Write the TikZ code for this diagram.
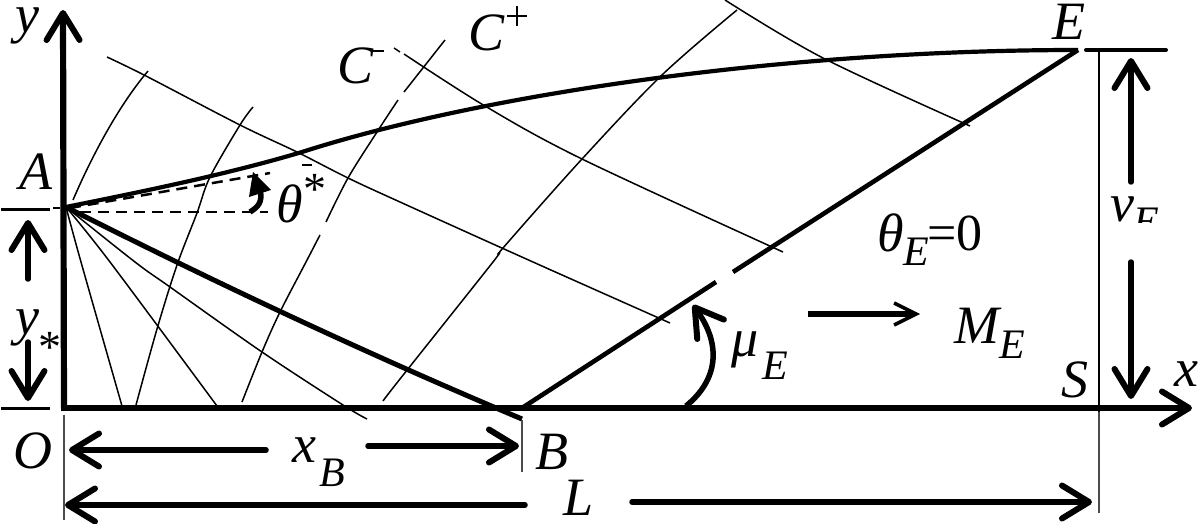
\documentclass[tikz,border=0pt]{standalone}
\usepackage{fontspec}
\setmainfont{Liberation Serif}
\usetikzlibrary{arrows.meta}
\tikzset{
  thinline/.style={line width=1.5pt,smooth,tension=0.55},
  dim/.style={line width=5.5pt,line cap=round},
  vee/.style={-{Straight Barb[length=27pt,width=33pt,line width=6pt,round]}},
  lbl/.style={font=\fontsize{54}{54}\selectfont\itshape,inner sep=0pt},
  subl/.style={font=\fontsize{42}{42}\selectfont\itshape,inner sep=0pt},
  star/.style={font=\fontsize{46}{46}\selectfont,inner sep=0pt},
  dsh/.style={line width=2.5pt,dash pattern=on 11pt off 7pt}
}
\begin{document}
\begin{tikzpicture}[x=1pt,y=-1pt]
\useasboundingbox (0,0) rectangle (1200,524);
\coordinate (A) at (66,207);
\coordinate (O) at (64,408);
\coordinate (O2) at (61,408);
\coordinate (B) at (522,408);
\coordinate (E) at (1078,50);
\coordinate (P) at (302,152);
\coordinate (W) at (522,419);
\coordinate (Ytop) at (63,10);
\coordinate (Xend) at (1192,408);
% axes
\draw[line width=6.2pt,vee] (O) -- (Ytop);
\draw[line width=5.5pt,vee] (O2) -- (Xend);
% thin fan and net
\draw[thinline] plot coordinates {(A) (81,262) (122,406)};
\draw[thinline] plot coordinates {(A) (110,262) (217,406)};
\draw[thinline] plot coordinates {(A) (135,262) (170,287) (262,352) (343,405) (367,419)};
\draw[line width=1.5pt] (73,200) .. controls (88,165) and (115,110) .. (148,71);
\draw[thinline] plot coordinates {(136,405) (157,329) (177,265) (197,213) (210,177) (240,125) (253,107)};
\draw[thinline] plot coordinates {(242,402) (262,352) (280,312) (306,262) (320,235)};
\draw[thinline] plot coordinates {(326,222) (348,178) (377,132) (398,100)};
\draw[line width=1.5pt] (404,92) -- (445,40);
\draw[thinline] plot coordinates {(383,401) (400,379) (493,262) (503,248) (582,159) (662,75) (737,10)};
\draw[thinline] plot coordinates {(107,57) (146,76) (240,125) (297,152) (348,178) (400,202) (533,262) (670,323)};
\draw[line width=1.5pt] (394,48) -- (400,52);
\draw[thinline] plot coordinates {(404,54) (485,106) (582,159) (783,252)};
\draw[thinline] plot coordinates {(725,0) (823,58) (970,126)};
% walls
\draw[line width=4.2pt] (A) .. controls (140,192) and (225,175) .. (P) .. controls (480,95) and (780,50) .. (E);
\draw[line width=5pt] (A) .. controls (220,285) and (370,355) .. (W);
\draw[line width=4.6pt] (B) -- (716,282);
\draw[line width=4.6pt] (733,272) -- (E);
% dashed
\coordinate (dA) at (70,208);
\coordinate (dB) at (270,173);
\coordinate (dC) at (80,212);
\coordinate (dD) at (268,212);
\draw[dsh] (dA) -- (dB);
\draw[dsh] (dC) -- (dD);
\draw[line width=2.5pt] (53,208) -- (60,208);
% angle arrow
\draw[line width=5.5pt] (250,212) .. controls (258,207) and (263,202) .. (260,190);
\fill (253,172) -- (271,190) -- (249,197) -- cycle;
\draw[line width=1.5pt] (302,165) -- (312,165);
% horizontal ticks
\draw[line width=3pt] (1,209) -- (50,209);
\draw[line width=3pt] (1,408) -- (50,408);
\draw[line width=4pt,line cap=round] (1086,50) -- (1166,50);
% vertical thin
\draw[line width=2pt,black!70] (64,415) -- (64,520);
\draw[line width=2pt,black!70] (522,420) -- (522,472);
\draw[line width=2pt] (1099,50) -- (1099,412);
\draw[line width=2pt,black!70] (1099,412) -- (1099,513);
% dims
\coordinate (y1) at (28,220); \coordinate (y1b) at (28,279);
\draw[dim,vee] (y1b) -- (y1);
\coordinate (y2) at (28,401); \coordinate (y2b) at (28,342);
\draw[dim,vee] (y2b) -- (y2);
\coordinate (xa) at (69,450); \coordinate (xb) at (266,450);
\draw[dim,vee] (xb) -- (xa);
\coordinate (xc) at (519,446); \coordinate (xd) at (368,446);
\draw[dim,vee] (xd) -- (xc);
\coordinate (La) at (65,505); \coordinate (Lb) at (525,505);
\draw[dim,vee] (Lb) -- (La);
\coordinate (Lc) at (1092,502); \coordinate (Ld) at (632,502);
\draw[dim,vee] (Ld) -- (Lc);
\coordinate (ya) at (1131,58); \coordinate (yb) at (1131,182);
\draw[dim,vee] (yb) -- (ya);
\coordinate (yc) at (1131,399); \coordinate (yd) at (1131,262);
\draw[dim,vee] (yd) -- (yc);
\coordinate (Ma) at (808,314); \coordinate (Mb) at (920,314);
\draw[line width=5.5pt,-{Straight Barb[length=22pt,width=22pt,line width=3.5pt]}] (Ma) -- (Mb);
% mu arc
\draw[line width=5.5pt,vee] (686,406) .. controls (718,380) and (722,345) .. (693,305);
% labels
\node[lbl] (ly) at (27,26) {y};
\node[lbl] (lA) at (36,172) {A};
\node[lbl] (lO) at (33,451) {O};
\node[lbl] (ly2) at (27,328) {y};
\node[star] (lys) at (50,347) {*};
\node[lbl] (lxB) at (304,450) {x};
\node[subl] (lBs) at (332,473) {B};
\node[lbl] (lB) at (552,452) {B};
\node[lbl] (lL) at (579,498) {L};
\node[lbl] (lS) at (1075,380) {S};
\node[lbl] (lx) at (1186,374) {x};
\node[lbl] (lE) at (1069,22) {E};
\node[lbl] (lC1) at (356,66) {C};
\draw[line width=2.5pt] (373,51) -- (384,51);
\node[lbl] (lC2) at (487,33) {C};
\draw[line width=1.8pt] (507,16) -- (527,16) (517,6) -- (517,26);
\node[lbl] (lth) at (290,204) {θ};
\node[star] (lths) at (315,189) {*};
\node[lbl] (lthE) at (891,233) {θ};
\node[subl] (lthEs) at (916,252) {E};
\node[font=\fontsize{52}{52}\selectfont,inner sep=0pt] (leq) at (955,233) {=0};
\node[lbl] (lmu) at (745,350) {μ};
\node[subl] (lmuE) at (775,366) {E};
\node[lbl] (lM) at (977,326) {M};
\node[subl] (lMs) at (1012,345) {E};
\node[lbl] (lv) at (1122,209) {v};
\begin{scope}
\clip (1130,190) rectangle (1170,222);
\node[subl] (lvs) at (1146,222) {E};
\end{scope}
\end{tikzpicture}
\end{document}
